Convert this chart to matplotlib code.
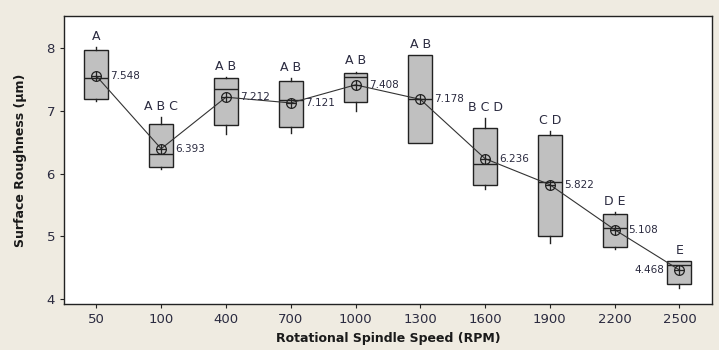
import numpy as np
import matplotlib
matplotlib.use('Agg')
from matplotlib import pyplot as plt

speeds = ['50', '100', '400', '700', '1000', '1300', '1600', '1900', '2200', '2500']
means = [7.548, 6.393, 7.212, 7.121, 7.408, 7.178, 6.236, 5.822, 5.108, 4.468]
q1 = [7.18, 6.10, 6.77, 6.74, 7.13, 6.48, 5.82, 5.00, 4.84, 4.25]
med = [7.51, 6.31, 7.35, 7.16, 7.53, 7.19, 6.15, 5.87, 5.14, 4.55]
q3 = [7.96, 6.79, 7.51, 7.47, 7.60, 7.88, 6.73, 6.61, 5.35, 4.61]
wlo = [7.15, 6.07, 6.62, 6.64, 7.00, 6.48, 5.76, 4.89, 4.80, 4.18]
whi = [8.01, 6.90, 7.53, 7.51, 7.62, 7.88, 6.88, 6.68, 5.39, 4.61]
groups = ['A', 'A B C', 'A B', 'A B', 'A B', 'A B', 'B C D', 'C D', 'D E', 'E']

BG = '#efebe1'
DARK = '#222222'
TXT = '#2b2b40'


def main():
    fig, ax = plt.subplots(figsize=(7.19, 3.5), dpi=100)
    fig.patch.set_facecolor(BG)
    fig.subplots_adjust(left=0.089, right=0.990, top=0.954, bottom=0.131)

    pos = np.arange(len(speeds))
    stats = [dict(med=m, q1=a, q3=b, whislo=lo, whishi=hi, fliers=[])
             for m, a, b, lo, hi in zip(med, q1, q3, wlo, whi)]
    ax.bxp(stats, positions=pos, widths=0.37, patch_artist=True, showcaps=False,
           boxprops=dict(facecolor='#c0c0c0', edgecolor=DARK, linewidth=1.0),
           medianprops=dict(color=DARK, linewidth=1.0),
           whiskerprops=dict(color=DARK, linewidth=1.0))

    # mean connect line and circle-plus markers
    ax.plot(pos, means, color='#333333', linewidth=0.8, zorder=3)
    ax.plot(pos, means, 'o', ms=7, mfc='none', mec=DARK, mew=0.9, zorder=4)
    ax.plot(pos, means, '+', ms=7, mec=DARK, mew=0.9, zorder=4)

    for i, m in enumerate(means):
        if i == len(means) - 1:
            ax.annotate(f'{m:.3f}', (pos[i], m), xytext=(-11, 0), textcoords='offset points',
                        ha='right', va='center', fontsize=7.5, color=TXT)
        else:
            ax.annotate(f'{m:.3f}', (pos[i], m), xytext=(10, 0), textcoords='offset points',
                        ha='left', va='center', fontsize=7.5, color=TXT)
        ax.annotate(groups[i], (pos[i], whi[i]), xytext=(0, 3), textcoords='offset points',
                    ha='center', va='bottom', fontsize=9, color=TXT)

    ax.set_xlim(-0.5, 9.5)
    ax.set_ylim(3.925, 8.5)
    ax.set_yticks([4, 5, 6, 7, 8])
    ax.set_xticks(pos)
    ax.set_xticklabels(speeds)
    ax.tick_params(axis='both', labelsize=9.5, colors=DARK, labelcolor=TXT, length=3, width=0.8)
    for s in ax.spines.values():
        s.set_color(DARK)
        s.set_linewidth(1.0)

    ax.set_xlabel('Rotational Spindle Speed (RPM)', fontsize=9, fontweight='bold', color='#1a1a1a')
    ax.set_ylabel('Surface Roughness (µm)', fontsize=9, fontweight='bold', color='#1a1a1a',
                  labelpad=14)

    fig.savefig('out.png', dpi=100, facecolor=BG)


if __name__ == '__main__':
    main()
